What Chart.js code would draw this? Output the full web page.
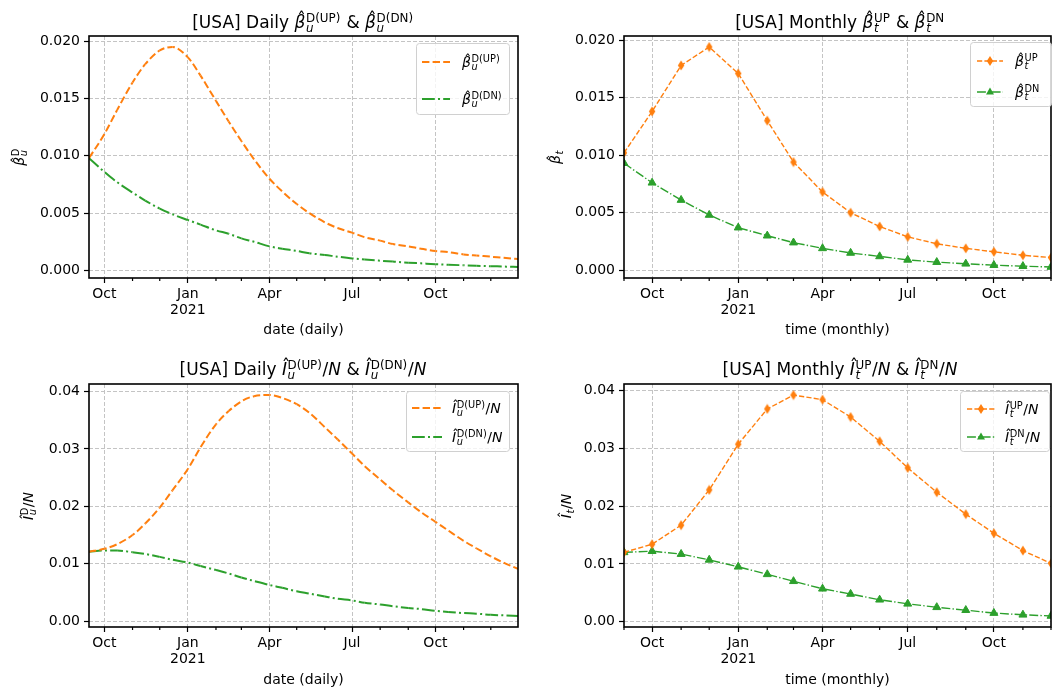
<!DOCTYPE html>
<html>
<head>
<meta charset="utf-8">
<script src="https://cdn.jsdelivr.net/npm/chart.js@4.4.1/dist/chart.umd.min.js"></script>
<style>
  body { margin: 0; background: #fff; }
  #fig { position: relative; width: 1057px; height: 693px; overflow: hidden; }
  canvas { position: absolute; }
</style>
</head>
<body>
<div id="fig">
  <canvas id="c1" width="528" height="345" style="left:0;top:0"></canvas>
  <canvas id="c2" width="527" height="345" style="left:530px;top:0"></canvas>
  <canvas id="c3" width="528" height="348" style="left:0;top:345px"></canvas>
  <canvas id="c4" width="527" height="348" style="left:530px;top:345px"></canvas>
</div>
<script>
// daily estimates (read at these dates)
const dailyDates = [
  '2020-09-14', '2020-10-01', '2020-10-15', '2020-11-01', '2020-11-15', '2020-12-01', '2020-12-15',
  '2021-01-01', '2021-01-15', '2021-02-01', '2021-02-15', '2021-03-01', '2021-03-15', '2021-04-01',
  '2021-04-15', '2021-05-01', '2021-05-15', '2021-06-01', '2021-06-15', '2021-07-01', '2021-07-15',
  '2021-08-01', '2021-08-15', '2021-09-01', '2021-09-15', '2021-10-01', '2021-10-15', '2021-11-01',
  '2021-11-15', '2021-12-01', '2021-12-15', '2021-12-31'
];
const betaUpDaily = [
  0.0098, 0.0119, 0.0140, 0.0164, 0.0180, 0.0192, 0.0195,
  0.0186, 0.0170, 0.0148, 0.0130, 0.0113, 0.0097, 0.0080,
  0.0069, 0.0058, 0.0050, 0.0042, 0.0037, 0.0033, 0.0029,
  0.0026, 0.0023, 0.0021, 0.0019, 0.0017, 0.0016, 0.0014,
  0.0013, 0.0012, 0.0011, 0.0010
];
const betaDnDaily = [
  0.0098, 0.0086, 0.0077, 0.0068, 0.0061, 0.0054, 0.0049,
  0.0044, 0.0040, 0.0035, 0.0032, 0.0028, 0.0025, 0.0021,
  0.0019, 0.0017, 0.0015, 0.00135, 0.0012, 0.00105, 0.00095,
  0.00085, 0.00077, 0.00068, 0.00062, 0.00055, 0.0005, 0.00045,
  0.00041, 0.00037, 0.00034, 0.0003
];
const iUpDaily = [
  0.0121, 0.0126, 0.0134, 0.0150, 0.0170, 0.0198, 0.0228,
  0.0265, 0.0303, 0.0343, 0.0366, 0.0383, 0.0392, 0.0394,
  0.0389, 0.0378, 0.0363, 0.0338, 0.0317, 0.0292, 0.0270,
  0.0247, 0.0228, 0.0207, 0.0190, 0.0173, 0.0158, 0.0140,
  0.0127, 0.0113, 0.0102, 0.0091
];
const iDnDaily = [
  0.0121, 0.0123, 0.0123, 0.0120, 0.0117, 0.0112, 0.0107,
  0.0102, 0.0096, 0.0089, 0.0083, 0.0076, 0.0070, 0.0063,
  0.0058, 0.0052, 0.0048, 0.0043, 0.0039, 0.0036, 0.0032,
  0.0029, 0.0026, 0.0023, 0.0021, 0.0018, 0.0016, 0.0014,
  0.0013, 0.0011, 0.0010, 0.0009
];

const monthlyDates = [
  '2020-09-01', '2020-10-01', '2020-11-01', '2020-12-01', '2021-01-01', '2021-02-01', '2021-03-01', '2021-04-01',
  '2021-05-01', '2021-06-01', '2021-07-01', '2021-08-01', '2021-09-01', '2021-10-01', '2021-11-01', '2021-12-01'
];
const betaUpMonthly = [0.0102, 0.0138, 0.0178, 0.0194, 0.0171, 0.0130, 0.0094, 0.0068,
                       0.0050, 0.0038, 0.0029, 0.0023, 0.0019, 0.0016, 0.0013, 0.0011];
const betaDnMonthly = [0.0093, 0.0076, 0.0061, 0.0048, 0.0037, 0.0030, 0.0024, 0.0019,
                       0.0015, 0.0012, 0.0009, 0.0007, 0.00056, 0.00044, 0.00035, 0.00028];
const iUpMonthly = [0.0120, 0.0134, 0.0167, 0.0228, 0.0307, 0.0368, 0.0392, 0.0384,
                    0.0354, 0.0312, 0.0266, 0.0224, 0.0186, 0.0153, 0.0123, 0.0101];
const iDnMonthly = [0.0120, 0.0122, 0.0117, 0.0107, 0.0095, 0.0082, 0.0070, 0.0057,
                    0.0048, 0.0038, 0.0031, 0.0025, 0.0020, 0.0015, 0.0012, 0.0010];

const majorTicks = ['2020-10-01', '2021-01-01', '2021-04-01', '2021-07-01', '2021-10-01'];
const minorTicks = ['2020-09-01', '2020-11-01', '2020-12-01', '2021-02-01', '2021-03-01', '2021-05-01',
                    '2021-06-01', '2021-08-01', '2021-09-01', '2021-11-01', '2021-12-01'];
const betaTicks = [0, 0.005, 0.010, 0.015, 0.020];
const iTicks = [0, 0.01, 0.02, 0.03, 0.04];
const MONTHS = ['Jan', 'Feb', 'Mar', 'Apr', 'May', 'Jun', 'Jul', 'Aug', 'Sep', 'Oct', 'Nov', 'Dec'];

const ORANGE = '#ff7f0e';
const GREEN = '#2ca02c';
const GRID = '#c4c4c4';
const DAY = 864e5;
const FAMILY = '"DejaVu Sans", sans-serif';
const FONT = { family: 'DejaVu Sans', size: 14 };

const DASH_DAILY_UP = [7.4, 3.2];
const DASH_DAILY_DN = [12.8, 3.2, 2, 3.2];
const DASH_MONTH_UP = [5.2, 2.2];
const DASH_MONTH_DN = [8.9, 2.2, 1.4, 2.2];

const toDay = s => Date.parse(s) / DAY;
const points = (dates, vals) => dates.map((d, i) => ({ x: toDay(d), y: vals[i] }));

function monthLabel(v) {
  const d = new Date(Math.round(v) * DAY);
  const m = d.getUTCMonth();
  return m === 0 ? [MONTHS[m], String(d.getUTCFullYear())] : MONTHS[m];
}

// thin diamond marker like matplotlib 'd'
function diamond(color) {
  const c = document.createElement('canvas');
  c.width = 8; c.height = 11;
  const g = c.getContext('2d');
  g.fillStyle = color;
  g.beginPath();
  g.moveTo(4, 0.5); g.lineTo(7.2, 5.5); g.lineTo(4, 10.5); g.lineTo(0.8, 5.5);
  g.closePath(); g.fill();
  return c;
}

// stroke each segment on its own, carrying the dash phase along the line
function dashedSegments(dash) {
  return {
    borderDash: () => dash,
    borderDashOffset: ctx => {
      const pts = ctx.chart.getDatasetMeta(ctx.datasetIndex).data;
      let len = 0;
      for (let k = 0; k < ctx.p0DataIndex; k++) {
        len += Math.hypot(pts[k + 1].x - pts[k].x, pts[k + 1].y - pts[k].y);
      }
      return len + 0.001 * ctx.p0DataIndex;
    }
  };
}

// ---- small math-text writer: strings, {i: 'N'} italic, {b, sup, sub} hatted symbol ----
const fontOf = (size, it) => `${it ? 'italic ' : ''}${size}px ${FAMILY}`;

function layoutMath(ctx, parts, size) {
  const items = [];
  let x = 0;
  const put = (t, f, dx, dy) => { ctx.font = f; items.push({ t, f, x: dx, y: dy }); return ctx.measureText(t).width; };
  parts.forEach(p => {
    if (typeof p === 'string') {
      x += put(p, fontOf(size, false), x, 0);
    } else if (p.i) {
      x += put(p.i, fontOf(size, true), x, 0);
    } else {
      const bw = put(p.b, fontOf(size, true), x, 0);
      ctx.font = fontOf(size, false);
      const hw = ctx.measureText('\u02C6').width;
      put('\u02C6', fontOf(size, false), x + bw / 2 - hw / 2 + size * 0.1, -size * 0.15);
      x += bw + size * 0.04;
      const ss = size * 0.7;
      let w = 0;
      if (p.sup) w = Math.max(w, put(p.sup, fontOf(ss, false), x, -size * 0.36));
      if (p.sub) w = Math.max(w, put(p.sub, fontOf(ss, true), x, size * 0.24));
      x += w + size * 0.04;
    }
  });
  return { items, width: x };
}

function drawMath(ctx, parts, size, x, y, align) {
  const { items, width } = layoutMath(ctx, parts, size);
  const x0 = align === 'center' ? x - width / 2 : x;
  ctx.fillStyle = '#000';
  ctx.textAlign = 'left';
  ctx.textBaseline = 'alphabetic';
  items.forEach(it => { ctx.font = it.f; ctx.fillText(it.t, x0 + it.x, y + it.y); });
}

function drawLegend(ctx, L, ox, oy, monthly) {
  const x = L.box[0] - ox, y = L.box[1] - oy, w = L.box[2], h = L.box[3];
  ctx.save();
  ctx.fillStyle = 'rgba(255,255,255,0.8)';
  ctx.strokeStyle = '#d0d0d0';
  ctx.lineWidth = 1;
  ctx.beginPath();
  if (ctx.roundRect) ctx.roundRect(x + 0.5, y + 0.5, w - 1, h - 1, 3); else ctx.rect(x + 0.5, y + 0.5, w - 1, h - 1);
  ctx.fill();
  ctx.stroke();
  L.rows.forEach((r, i) => {
    const up = i === 0;
    const col = up ? ORANGE : GREEN;
    const cy = r.y - oy;
    const hx0 = L.handle[0] - ox, hx1 = L.handle[1] - ox;
    ctx.strokeStyle = col;
    ctx.lineWidth = monthly ? 1.4 : 2;
    ctx.setLineDash(monthly ? (up ? DASH_MONTH_UP : DASH_MONTH_DN) : (up ? DASH_DAILY_UP : DASH_DAILY_DN));
    ctx.beginPath();
    ctx.moveTo(hx0, cy);
    ctx.lineTo(hx1, cy);
    ctx.stroke();
    ctx.setLineDash([]);
    if (monthly) {
      const c = (hx0 + hx1) / 2;
      ctx.fillStyle = col;
      ctx.beginPath();
      if (up) { ctx.moveTo(c, cy - 5); ctx.lineTo(c + 3.2, cy); ctx.lineTo(c, cy + 5); ctx.lineTo(c - 3.2, cy); }
      else { ctx.moveTo(c, cy - 4.6); ctx.lineTo(c + 4, cy + 2.4); ctx.lineTo(c - 4, cy + 2.4); }
      ctx.closePath();
      ctx.fill();
    }
    drawMath(ctx, r.parts, 14, L.text - ox, cy + 5, 'left');
  });
  ctx.restore();
}

function decorPlugin(o) {
  return {
    id: 'decor',
    afterDraw(chart) {
      const { ctx, chartArea: a, scales: { x } } = chart;
      ctx.save();
      ctx.setLineDash([]);
      ctx.strokeStyle = '#000';
      ctx.lineWidth = 1.2;
      minorTicks.map(toDay).forEach(v => {
        if (v < x.min - 0.1 || v > x.max + 0.1) return;
        const px = x.getPixelForValue(v);
        ctx.beginPath();
        ctx.moveTo(px, a.bottom);
        ctx.lineTo(px, a.bottom + 3);
        ctx.stroke();
      });
      ctx.lineWidth = 1.6;
      ctx.strokeRect(a.left, a.top, a.right - a.left, a.bottom - a.top);
      ctx.restore();

      ctx.save();
      drawMath(ctx, o.title, 17, o.titleAt[0] - o.ox, o.titleAt[1] - o.oy, 'center');
      ctx.translate(o.ylabAt[0] - o.ox, o.ylabAt[1] - o.oy);
      ctx.rotate(-Math.PI / 2);
      drawMath(ctx, o.ylab, 14, 0, 5, 'center');
      ctx.restore();

      drawLegend(ctx, o.legend, o.ox, o.oy, o.monthly);
    }
  };
}

function yRange(series) {
  const all = series.flat();
  const lo = Math.min(...all), hi = Math.max(...all);
  const pad = (hi - lo) * 0.05;
  return [lo - pad, hi + pad];
}

function makeChart(id, o) {
  const [ymin, ymax] = yRange(o.datasets.map(d => d.data.map(p => p.y)));
  return new Chart(document.getElementById(id), {
    type: 'line',
    data: { datasets: o.datasets },
    options: {
      animation: false,
      responsive: false,
      devicePixelRatio: 1,
      layout: { padding: o.padding },
      plugins: { legend: { display: false }, title: { display: false }, tooltip: { enabled: false } },
      scales: {
        x: {
          type: 'linear',
          min: o.xmin, max: o.xmax,
          afterBuildTicks: s => { s.ticks = majorTicks.map(t => ({ value: toDay(t) })); },
          afterFit: s => { s.height = o.xHeight; },
          grid: { color: GRID, lineWidth: 1, tickLength: 5, tickColor: '#000', tickWidth: 1.2 },
          border: { display: false, dash: [4, 2] },
          ticks: { font: { ...FONT, lineHeight: 1.1 }, color: '#000', padding: 4, maxRotation: 0,
                   autoSkip: false, callback: v => monthLabel(v) },
          title: { display: true, text: o.xTitle, font: FONT, color: '#000',
                   padding: { top: 0, bottom: o.titlePad } }
        },
        y: {
          min: ymin, max: ymax,
          afterBuildTicks: s => { s.ticks = o.yTicks.map(v => ({ value: v })); },
          afterFit: s => { s.width = o.yWidth; },
          grid: { color: GRID, lineWidth: 1, tickLength: 5, tickColor: '#000', tickWidth: 1.2 },
          border: { display: false, dash: [4, 2] },
          ticks: { font: FONT, color: '#000', padding: 4, callback: v => v.toFixed(o.digits) }
        }
      }
    },
    plugins: [decorPlugin(o)]
  });
}

const dailyLine = (vals, up) => {
  const dash = up ? DASH_DAILY_UP : DASH_DAILY_DN;
  return {
    data: points(dailyDates, vals),
    borderColor: up ? ORANGE : GREEN,
    borderWidth: 2,
    borderDash: dash,
    segment: dashedSegments(dash),
    pointRadius: 0,
    cubicInterpolationMode: 'monotone',
    fill: false,
    clip: 0
  };
};

const monthlyLine = (vals, up) => {
  const dash = up ? DASH_MONTH_UP : DASH_MONTH_DN;
  return {
    data: points(monthlyDates, vals),
    borderColor: up ? ORANGE : GREEN,
    backgroundColor: up ? ORANGE : GREEN,
    borderWidth: 1.4,
    borderDash: dash,
    segment: dashedSegments(dash),
    pointStyle: up ? diamond(ORANGE) : 'triangle',
    pointRadius: up ? 5 : 4.6,
    pointBorderWidth: 1,
    pointBorderColor: up ? ORANGE : GREEN,
    tension: 0,
    fill: false,
    clip: 0
  };
};

const sym = (b, sup, sub) => ({ b, sup, sub });
const overN = { i: 'N' };

const dailyX = { xmin: toDay(dailyDates[0]), xmax: toDay(dailyDates[dailyDates.length - 1]) };
const monthlyX = { xmin: toDay(monthlyDates[0]), xmax: toDay(monthlyDates[monthlyDates.length - 1]) };

makeChart('c1', { ...dailyX, ox: 0, oy: 0, monthly: false,
  datasets: [dailyLine(betaUpDaily, true), dailyLine(betaDnDaily, false)],
  padding: { left: 0, top: 36, right: 10, bottom: 0 }, yWidth: 89, xHeight: 67, titlePad: 6,
  xTitle: 'date (daily)', yTicks: betaTicks, digits: 3,
  title: ['[USA] Daily ', sym('β', 'D(UP)', 'u'), ' & ', sym('β', 'D(DN)', 'u')], titleAt: [303, 28],
  ylab: [sym('β', 'D', 'u')], ylabAt: [19, 157],
  legend: { box: [416, 43, 94, 72], handle: [422, 450], text: 462,
            rows: [{ y: 62, parts: [sym('β', 'D(UP)', 'u')] }, { y: 99, parts: [sym('β', 'D(DN)', 'u')] }] } });

makeChart('c2', { ...monthlyX, ox: 530, oy: 0, monthly: true,
  datasets: [monthlyLine(betaUpMonthly, true), monthlyLine(betaDnMonthly, false)],
  padding: { left: 0, top: 36, right: 1, bottom: 0 }, yWidth: 94, xHeight: 67, titlePad: 6,
  xTitle: 'time (monthly)', yTicks: betaTicks, digits: 3,
  title: ['[USA] Monthly ', sym('β', 'UP', 't'), ' & ', sym('β', 'DN', 't')], titleAt: [840, 28],
  ylab: [sym('β', '', 't')], ylabAt: [555, 157],
  legend: { box: [970, 42, 82, 65], handle: [977, 1003], text: 1015,
            rows: [{ y: 61, parts: [sym('β', 'UP', 't')] }, { y: 92, parts: [sym('β', 'DN', 't')] }] } });

makeChart('c3', { ...dailyX, ox: 0, oy: 345, monthly: false,
  datasets: [dailyLine(iUpDaily, true), dailyLine(iDnDaily, false)],
  padding: { left: 0, top: 39, right: 10, bottom: 0 }, yWidth: 89, xHeight: 66, titlePad: 4.6,
  xTitle: 'date (daily)', yTicks: iTicks, digits: 2,
  title: ['[USA] Daily ', sym('I', 'D(UP)', 'u'), '/', overN, ' & ', sym('I', 'D(DN)', 'u'), '/', overN], titleAt: [303, 375],
  ylab: [sym('I', 'D', 'u'), '/', overN], ylabAt: [28, 506],
  legend: { box: [406, 391, 104, 61], handle: [412, 442], text: 452,
            rows: [{ y: 408, parts: [sym('I', 'D(UP)', 'u'), '/', overN] },
                   { y: 437, parts: [sym('I', 'D(DN)', 'u'), '/', overN] }] } });

makeChart('c4', { ...monthlyX, ox: 530, oy: 345, monthly: true,
  datasets: [monthlyLine(iUpMonthly, true), monthlyLine(iDnMonthly, false)],
  padding: { left: 0, top: 39, right: 1, bottom: 0 }, yWidth: 94, xHeight: 66, titlePad: 4.6,
  xTitle: 'time (monthly)', yTicks: iTicks, digits: 2,
  title: ['[USA] Monthly ', sym('I', 'UP', 't'), '/', overN, ' & ', sym('I', 'DN', 't'), '/', overN], titleAt: [840, 375],
  ylab: [sym('I', '', 't'), '/', overN], ylabAt: [566, 506],
  legend: { box: [960, 391, 90, 61], handle: [967, 995], text: 1005,
            rows: [{ y: 409, parts: [sym('I', 'UP', 't'), '/', overN] },
                   { y: 437, parts: [sym('I', 'DN', 't'), '/', overN] }] } });
</script>
</body>
</html>
